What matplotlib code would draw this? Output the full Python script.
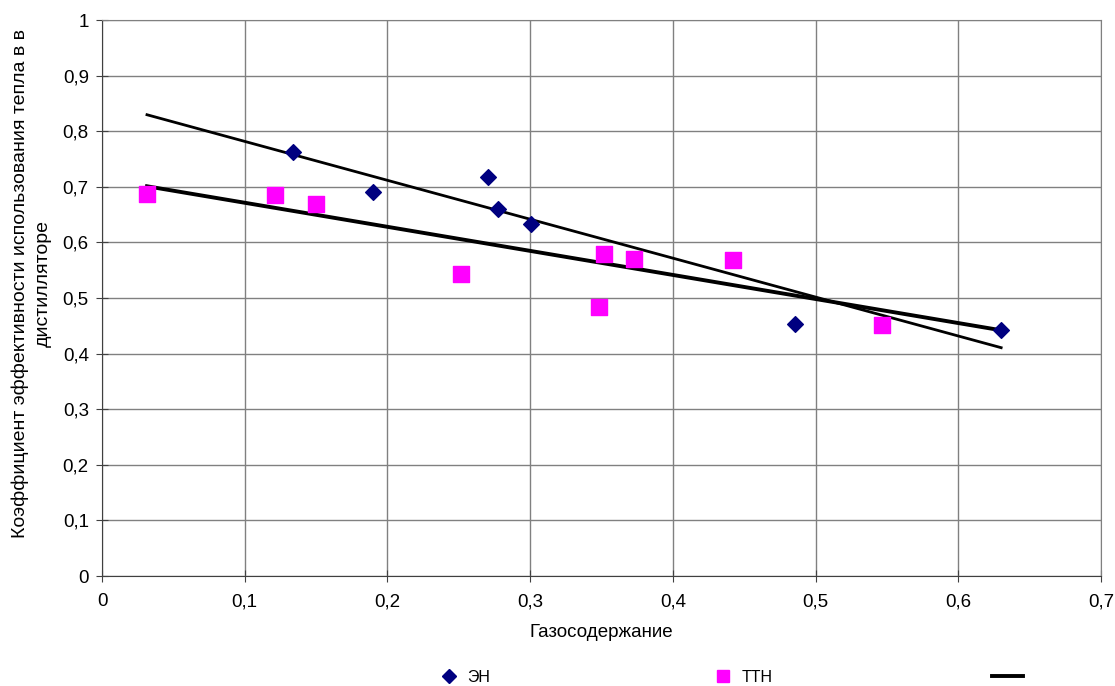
import numpy as np
import matplotlib.pyplot as plt
from matplotlib.lines import Line2D

plt.rcParams['font.family'] = ['Liberation Sans', 'DejaVu Sans']

# ЭН series (diamonds)
en_x = [0.1335, 0.1897, 0.2707, 0.2774, 0.3005, 0.4853, 0.6300]
en_y = [0.763, 0.691, 0.717, 0.661, 0.634, 0.453, 0.442]

# ТТН series (squares)
ttn_x = [0.0315, 0.1209, 0.1498, 0.2515, 0.3483, 0.3516, 0.3724, 0.4424, 0.5467]
ttn_y = [0.687, 0.686, 0.669, 0.543, 0.483, 0.579, 0.571, 0.568, 0.451]

# third series: straight line, no label
line_x = [0.0315, 0.6300]
line_y = [0.701, 0.442]

xticks = [0, 0.1, 0.2, 0.3, 0.4, 0.5, 0.6, 0.7]
xlabels = ['0', '0,1', '0,2', '0,3', '0,4', '0,5', '0,6', '0,7']
yticks = [0, 0.1, 0.2, 0.3, 0.4, 0.5, 0.6, 0.7, 0.8, 0.9, 1]
ylabels = ['0', '0,1', '0,2', '0,3', '0,4', '0,5', '0,6', '0,7', '0,8', '0,9', '1']

fig = plt.figure(figsize=(11.15, 6.86), dpi=100)
ax = fig.add_axes([0.0915, 0.1603, 0.896, 0.8105])

# linear trend of ЭН, drawn over the full data range
k, b = np.polyfit(en_x, en_y, 1)
tx = np.array([min(ttn_x), max(en_x)])
ax.plot(tx, k * tx + b, color='black', lw=2.0, zorder=3)

ax.plot(line_x, line_y, color='black', lw=2.8, zorder=3)
ax.scatter(en_x, en_y, marker='D', s=64, color='#000080', zorder=4)
ax.scatter(ttn_x, ttn_y, marker='s', s=121, color='#FF00FF', zorder=4)

ax.set_xlim(0, 0.7)
ax.set_ylim(0, 1)
ax.set_xticks(xticks)
ax.set_xticklabels(xlabels)
ax.set_yticks(yticks)
ax.set_yticklabels(ylabels)
ax.tick_params(labelsize=13.5, length=9, direction='inout', color='#404040')
ax.tick_params(axis='x', pad=8)
ax.tick_params(axis='y', pad=5)
ax.grid(True, color='#808080', lw=1)
ax.set_axisbelow(True)
for s in ['top', 'right']:
    ax.spines[s].set_color('#808080')
for s in ['left', 'bottom']:
    ax.spines[s].set_color('#404040')

ax.set_xlabel('Газосодержание', fontsize=13.5)
ax.xaxis.set_label_coords(0.5, -0.086)
ax.set_ylabel('Коэффициент эффективности использования тепла в в\nдистилляторе',
              fontsize=14, linespacing=1.45)
ax.yaxis.set_label_coords(-0.050, 0.527)

# legend: one entry per column, placed below the plot
handles = [Line2D([], [], marker='D', ls='', color='#000080', markersize=7),
           Line2D([], [], marker='s', ls='', color='#FF00FF', markersize=8),
           Line2D([], [], color='black', lw=2.8)]
names = ['ЭН', 'ТТН', '']
starts = [0.389, 0.635, 0.890]
for h, n, x0 in zip(handles, names, starts):
    fig.legend([h], [n], loc='center left', bbox_to_anchor=(x0, 0.0131),
               frameon=False, fontsize=11.5, borderpad=0, borderaxespad=0,
               handlelength=1.9, handletextpad=0.2)

fig.savefig('out.png', dpi=100)
